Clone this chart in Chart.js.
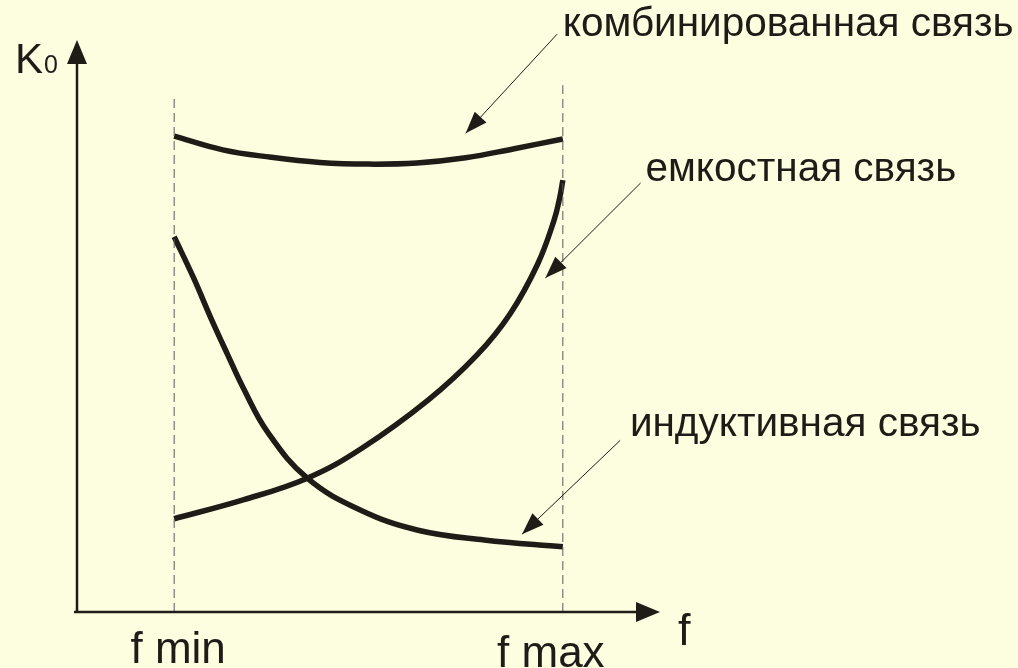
<!DOCTYPE html>
<html>
<head>
<meta charset="utf-8">
<script src="https://cdn.jsdelivr.net/npm/chart.js@4"></script>
<style>
  html, body { margin: 0; padding: 0; background: #fdfde0; }
  canvas { display: block; }
</style>
</head>
<body>
<canvas id="chart" width="1018" height="668"></canvas>
<script>
// frequency axis: f min = 1, f max = 5 (arbitrary units)
const freqMarks = [1, 5]
const freqLabels = ['f min', 'f max']

// K0 for each coupling type
const combinedF = [1, 1.5, 2, 2.5, 3, 3.5, 4, 4.5, 5]
const combinedK = [8.32, 8.08, 7.95, 7.86, 7.83, 7.85, 7.94, 8.10, 8.27]

const inductiveF = [1.0, 1.2, 1.37, 1.55, 1.71, 1.96, 2.37, 2.92, 3.51, 4.19, 5.0]
const inductiveK = [6.56, 5.84, 5.17, 4.50, 3.92, 3.15, 2.34, 1.78, 1.43, 1.26, 1.14]

const capacitiveF = [1.0, 1.71, 2.37, 2.92, 3.61, 4.12, 4.46, 4.74, 4.91, 4.97, 5.0]
const capacitiveK = [1.63, 1.96, 2.34, 2.85, 3.70, 4.50, 5.22, 6.08, 6.85, 7.26, 7.55]

// how high the dashed guide lines reach at f min / f max
const guideTops = [9.04, 9.21]

const seriesNames = ['комбинированная связь', 'емкостная связь', 'индуктивная связь']

const ink = '#1f1b17'
const font = '"Liberation Sans", Arial, sans-serif'

const toPoints = (xs, ys) => xs.map((x, i) => ({ x: x, y: ys[i] }))

const curve = (name, xs, ys) => ({
  label: name,
  data: toPoints(xs, ys),
  showLine: true,
  borderColor: ink,
  borderWidth: 5.5,
  pointRadius: 0,
  tension: 0.4,
  borderCapStyle: 'butt'
})

const guide = (f, top) => ({
  label: 'guide',
  data: [{ x: f, y: 0 }, { x: f, y: top }],
  showLine: true,
  borderColor: '#5a5a55',
  borderWidth: 1,
  borderDash: [9, 5],
  pointRadius: 0
})

// callouts: label text position and the arrow going from it to the curve (data units)
const callouts = [
  { text: seriesNames[0], tx: 5.0, ty: 10.07, from: [4.94, 10.1], to: [4.0, 8.37] },
  { text: seriesNames[1], tx: 5.85, ty: 7.53, from: [5.8, 7.5], to: [4.82, 5.84] },
  { text: seriesNames[2], tx: 5.69, ty: 3.08, from: [5.59, 3.0], to: [4.58, 1.36] }
]

function arrowHead(ctx, x1, y1, x2, y2, len, half) {
  const a = Math.atan2(y2 - y1, x2 - x1)
  ctx.beginPath()
  ctx.moveTo(x2, y2)
  ctx.lineTo(x2 - len * Math.cos(a) + half * Math.sin(a), y2 - len * Math.sin(a) - half * Math.cos(a))
  ctx.lineTo(x2 - len * Math.cos(a) - half * Math.sin(a), y2 - len * Math.sin(a) + half * Math.cos(a))
  ctx.closePath()
  ctx.fill()
}

const sketch = {
  id: 'sketch',
  beforeDraw(chart) {
    const { ctx, width, height } = chart
    ctx.save()
    ctx.fillStyle = '#fdfde0'
    ctx.fillRect(0, 0, width, height)
    ctx.restore()
  },
  afterDraw(chart) {
    const { ctx } = chart
    const xs = chart.scales.x, ys = chart.scales.y
    const px = v => xs.getPixelForValue(v)
    const py = v => ys.getPixelForValue(v)
    ctx.save()
    ctx.strokeStyle = ink
    ctx.fillStyle = ink

    // axes with arrows
    const x0 = px(0), y0 = py(0)
    ctx.lineWidth = 2.5
    ctx.beginPath()
    ctx.moveTo(x0, y0 + 1)
    ctx.lineTo(x0, py(ys.max) + 20)
    ctx.moveTo(x0 - 3, y0)
    ctx.lineTo(px(xs.max) - 20, y0)
    ctx.stroke()
    arrowHead(ctx, x0, y0, x0, py(ys.max), 24, 10)
    arrowHead(ctx, x0, y0, px(xs.max), y0, 24, 10)

    // callout arrows
    ctx.lineWidth = 1
    callouts.forEach(c => {
      const ax = px(c.from[0]), ay = py(c.from[1])
      const bx = px(c.to[0]), by = py(c.to[1])
      ctx.beginPath()
      ctx.moveTo(ax, ay)
      ctx.lineTo(bx, by)
      ctx.stroke()
      arrowHead(ctx, ax, ay, bx, by, 22, 8)
    })

    // callout texts
    ctx.textBaseline = 'alphabetic'
    ctx.textAlign = 'left'
    ctx.font = '40.5px ' + font
    callouts.forEach(c => ctx.fillText(c.text, px(c.tx), py(c.ty)))

    // axis names
    ctx.font = '42px ' + font
    ctx.fillText('K', x0 - 62, py(ys.max) + 33)
    const kw = ctx.measureText('K').width
    ctx.font = '25px ' + font
    ctx.fillText('0', x0 - 62 + kw + 1, py(ys.max) + 33)
    ctx.font = '45px ' + font
    ctx.fillText('f', px(xs.max) + 18, y0 + 33)

    // f min / f max under the axis
    ctx.font = '44px ' + font
    ctx.textAlign = 'center'
    ctx.fillText(freqLabels[0], px(freqMarks[0]) + 4, y0 + 51)
    ctx.fillText(freqLabels[1], px(freqMarks[1]) - 12, y0 + 55)
    ctx.restore()
  }
}

new Chart(document.getElementById('chart'), {
  type: 'scatter',
  data: {
    datasets: [
      guide(freqMarks[0], guideTops[0]),
      guide(freqMarks[1], guideTops[1]),
      curve(seriesNames[0], combinedF, combinedK),
      curve(seriesNames[1], capacitiveF, capacitiveK),
      curve(seriesNames[2], inductiveF, inductiveK)
    ]
  },
  options: {
    responsive: false,
    animation: false,
    devicePixelRatio: 1,
    layout: { padding: { left: 77, right: 358, top: 40, bottom: 56 } },
    scales: {
      x: { type: 'linear', min: 0, max: 6, display: false },
      y: { type: 'linear', min: 0, max: 10, display: false }
    },
    plugins: {
      legend: { display: false },
      tooltip: { enabled: false }
    }
  },
  plugins: [sketch]
})
</script>
</body>
</html>
